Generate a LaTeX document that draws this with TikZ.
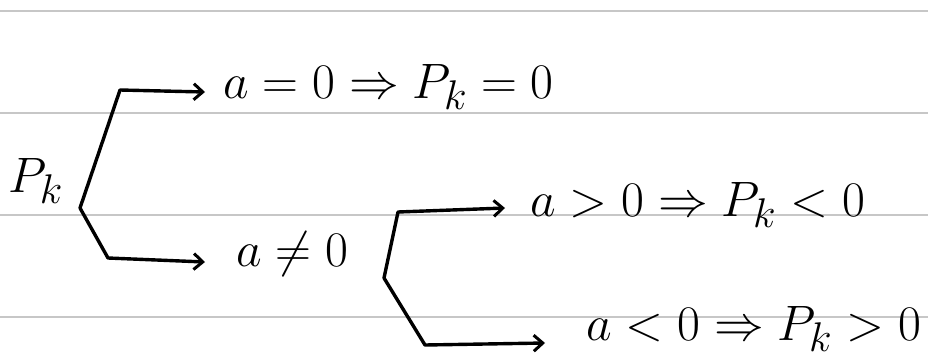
\documentclass[tikz,border=0pt]{standalone}
\usetikzlibrary{arrows.meta}
\begin{document}
\begin{tikzpicture}[x=1pt,y=-1pt,
  rule/.style={draw=black!22,line width=1.6pt},
  stroke/.style={draw=black,line width=3.4pt,line cap=round,line join=round},
  arr/.style={stroke,-{Straight Barb[length=9pt,width=16pt,line width=3pt]}},
  hand/.style={inner sep=0pt,anchor=base west,font=\Huge,scale=2.0}]
\useasboundingbox (0,0) rectangle (928,359);
\fill[white] (0,0) rectangle (928,359);
\foreach \y in {11,113,215,317} \draw[rule] (0,\y) -- (928,\y);
\node[hand] (p) at (8,192) {$P_k$};
\node[hand] (t1) at (223,98) {$a=0\Rightarrow P_k=0$};
\node[hand] (t2) at (236,266) {$a\neq0$};
\node[hand] (t3) at (530,216) {$a>0\Rightarrow P_k<0$};
\node[hand] (t4) at (586,340) {$a<0\Rightarrow P_k>0$};
\coordinate (s1) at (80,208);
\coordinate (c1) at (120,90);
\coordinate (c2) at (108,258);
\coordinate (e1) at (205,92);
\coordinate (e2) at (205,262);
\coordinate (s2) at (384,278);
\coordinate (c3) at (398,212);
\coordinate (c4) at (425,345);
\coordinate (e3) at (505,208);
\coordinate (e4) at (545,343);
\draw[arr] (s1) -- (c1) -- (e1);
\draw[arr] (s1) -- (c2) -- (e2);
\draw[arr] (s2) -- (c3) -- (e3);
\draw[arr] (s2) -- (c4) -- (e4);
\end{tikzpicture}
\end{document}
